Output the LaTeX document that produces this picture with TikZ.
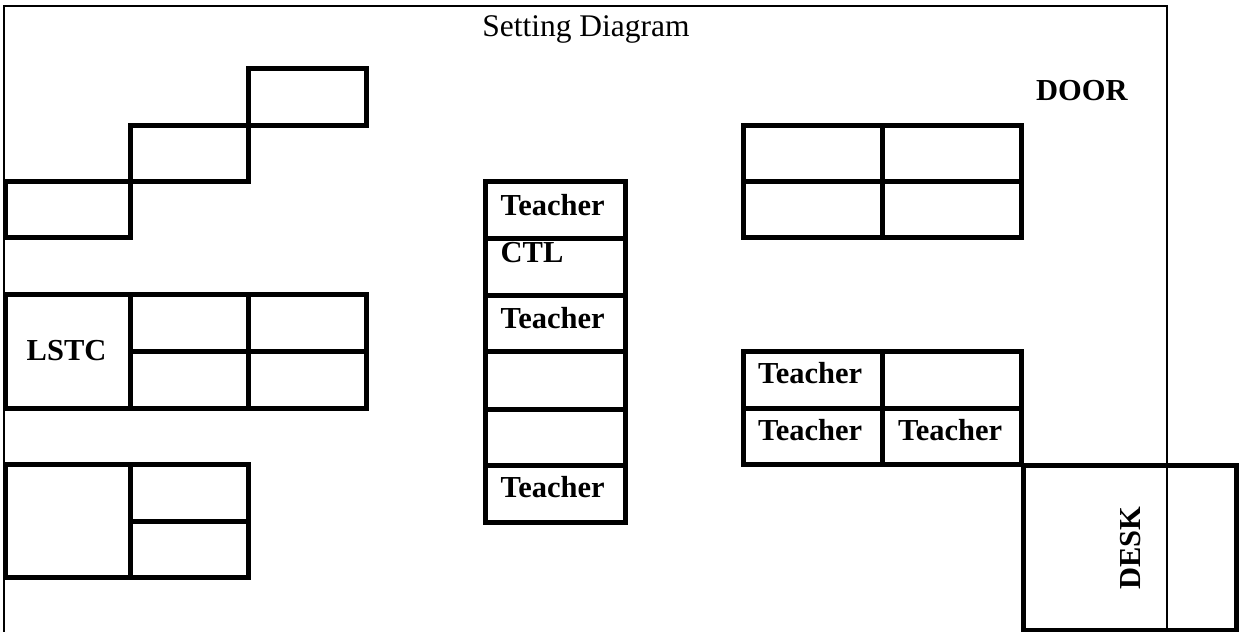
\documentclass[tikz,border=0pt]{standalone}
\usepackage{fontspec}
\setmainfont{Liberation Serif}
\begin{document}
\begin{tikzpicture}[x=1pt,y=-1pt,
  furn/.style={draw=black,line width=5pt,line join=miter},
  wall/.style={draw=black,line width=2.6pt},
  lbl/.style={inner sep=0pt,anchor=base west,font=\fontsize{30.5}{36}\selectfont\bfseries},
  ttl/.style={inner sep=0pt,anchor=base,font=\fontsize{31.5}{38}\selectfont}]
\useasboundingbox (0,0) rectangle (1248,632);
% room walls
\draw[wall] (4,634) -- (4,6) -- (1167,6) -- (1167,630);
\node[ttl] (title) at (586,36) {Setting Diagram};
% stair tables
\draw[furn] (248,68) rectangle (366,125);
\draw[furn] (130,125) rectangle (248,181);
\draw[furn] (5,181) rectangle (130,237);
% LSTC group
\draw[furn] (5,294.5) rectangle (366,408.5);
\draw[furn] (130,294.5) -- (130,408.5) (248,294.5) -- (248,408.5) (130,351.5) -- (366,351.5);
\node[lbl] (lstc) at (26.5,360) {LSTC};
% bottom-left group
\draw[furn] (5,464.5) rectangle (248,577.5);
\draw[furn] (130,464.5) -- (130,577.5) (130,521.5) -- (248,521.5);
% centre column
\draw[furn] (485,181) rectangle (625.5,409.5);
\draw[furn] (485,238) -- (625.5,238) (485,295) -- (625.5,295) (485,351.5) -- (625.5,351.5);
\draw[furn] (485,409.5) rectangle (625.5,522.5);
\draw[furn] (485,465.5) -- (625.5,465.5);
\node[lbl] (c1) at (500.5,215) {Teacher};
\node[lbl] (c2) at (500.5,262) {CTL};
\node[lbl] (c3) at (500.5,328) {Teacher};
\node[lbl] (c6) at (500.5,497) {Teacher};
% right-top group
\draw[furn] (743,125) rectangle (1021.5,237.5);
\draw[furn] (882.5,125) -- (882.5,237.5) (743,181) -- (1021.5,181);
\node[lbl] (door) at (1036,100) {DOOR};
% right-bottom group
\draw[furn] (743,351.5) rectangle (1021.5,464);
\draw[furn] (882.5,351.5) -- (882.5,464) (743,408.5) -- (1021.5,408.5);
\node[lbl] (r1) at (758,383) {Teacher};
\node[lbl] (r2) at (758,440) {Teacher};
\node[lbl] (r3) at (898,440) {Teacher};
% desk
\draw[furn] (1023,465) rectangle (1236,630);
\node[lbl,rotate=90] (desk) at (1140,590) {DESK};
\end{tikzpicture}
\end{document}
